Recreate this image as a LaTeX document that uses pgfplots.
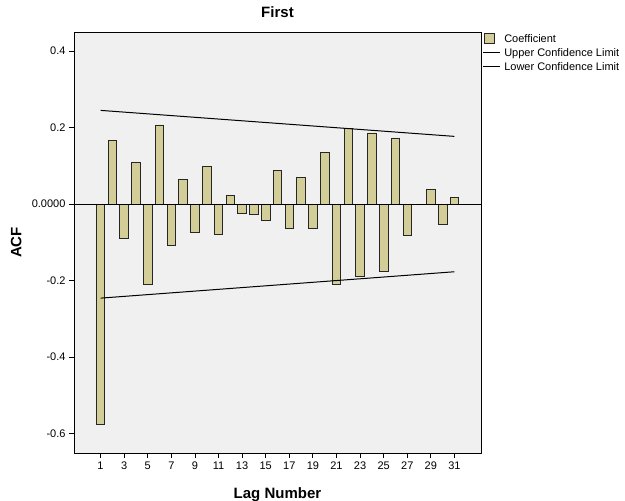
\documentclass[border=0pt]{standalone}
\usepackage{fontspec}
\setmainfont{Liberation Sans}
\usepackage{pgfplots}
\pgfplotsset{compat=1.18}
\definecolor{barfill}{HTML}{D3CE97}
\definecolor{plotbg}{HTML}{F0F0F0}

\begin{document}
\begin{tikzpicture}
\useasboundingbox (-74pt,-48pt) rectangle (551pt,453pt);
\begin{axis}[
    scale only axis,
    width=407pt,
    height=421pt,
    xmin=-1.25, xmax=33.25,
    ymin=-0.651, ymax=0.450,
    axis background/.style={fill=plotbg},
    axis line style={black, line width=0.8pt},
    xtick={1,3,...,31},
    ytick={-0.6,-0.4,-0.2,0,0.2,0.4},
    yticklabels={-0.6,-0.4,-0.2,0.0000,0.2,0.4},
    xtick pos=lower, ytick pos=left,
    tick align=outside,
    major tick length=5pt,
    tick style={black, line width=0.8pt},
    /pgf/number format/assume math mode=true,
    tick label style={font=\fontsize{11}{13}\selectfont},
    title={\bfseries First},
    title style={font=\fontsize{15}{17}\selectfont, at={(axis description cs:0.5,1.032)}, anchor=center},
    xlabel={\bfseries Lag Number},
    xlabel style={font=\fontsize{15}{17}\selectfont, at={(axis description cs:0.5,-0.1)}, anchor=center},
    ylabel={\bfseries ACF},
    ylabel style={font=\fontsize{15}{17}\selectfont, at={(axis description cs:-0.142,0.5)}, anchor=center},
    legend style={at={(axis description cs:1,1)}, anchor=north west, xshift=0pt, yshift=1pt,
      draw=none, fill=none, font=\fontsize{11}{13}\selectfont,
      row sep=0.5pt, inner sep=1pt,
      /tikz/every odd column/.append style={column sep=2pt}},
    legend cell align=left,
]
\addplot[ybar, bar width=0.72, fill=barfill, draw=black!85, line width=0.8pt,
  legend image code/.code={\draw[fill=barfill, draw=black!85, line width=0.8pt] (2pt,-4.5pt) rectangle (12pt,5.5pt);}]
  coordinates {
  (1,-0.577) (2,0.166) (3,-0.090) (4,0.110) (5,-0.209) (6,0.207)
  (7,-0.108) (8,0.064) (9,-0.073) (10,0.098) (11,-0.079) (12,0.023)
  (13,-0.024) (14,-0.028) (15,-0.044) (16,0.087) (17,-0.063) (18,0.069)
  (19,-0.064) (20,0.136) (21,-0.209) (22,0.197) (23,-0.188) (24,0.186)
  (25,-0.175) (26,0.173) (27,-0.082) (28,-0.002) (29,0.039) (30,-0.054)
  (31,0.017)
};
\addlegendentry{Coefficient}
\addplot[black, line width=1pt, no marks] coordinates {(1,0.245) (31,0.177)};
\addlegendentry{Upper Confidence Limit}
\addplot[black, line width=1pt, no marks] coordinates {(1,-0.246) (31,-0.177)};
\addlegendentry{Lower Confidence Limit}
\addplot[black, line width=1pt, no marks, forget plot] coordinates {(-1.25,0) (33.25,0)};
\end{axis}
\end{tikzpicture}
\end{document}
